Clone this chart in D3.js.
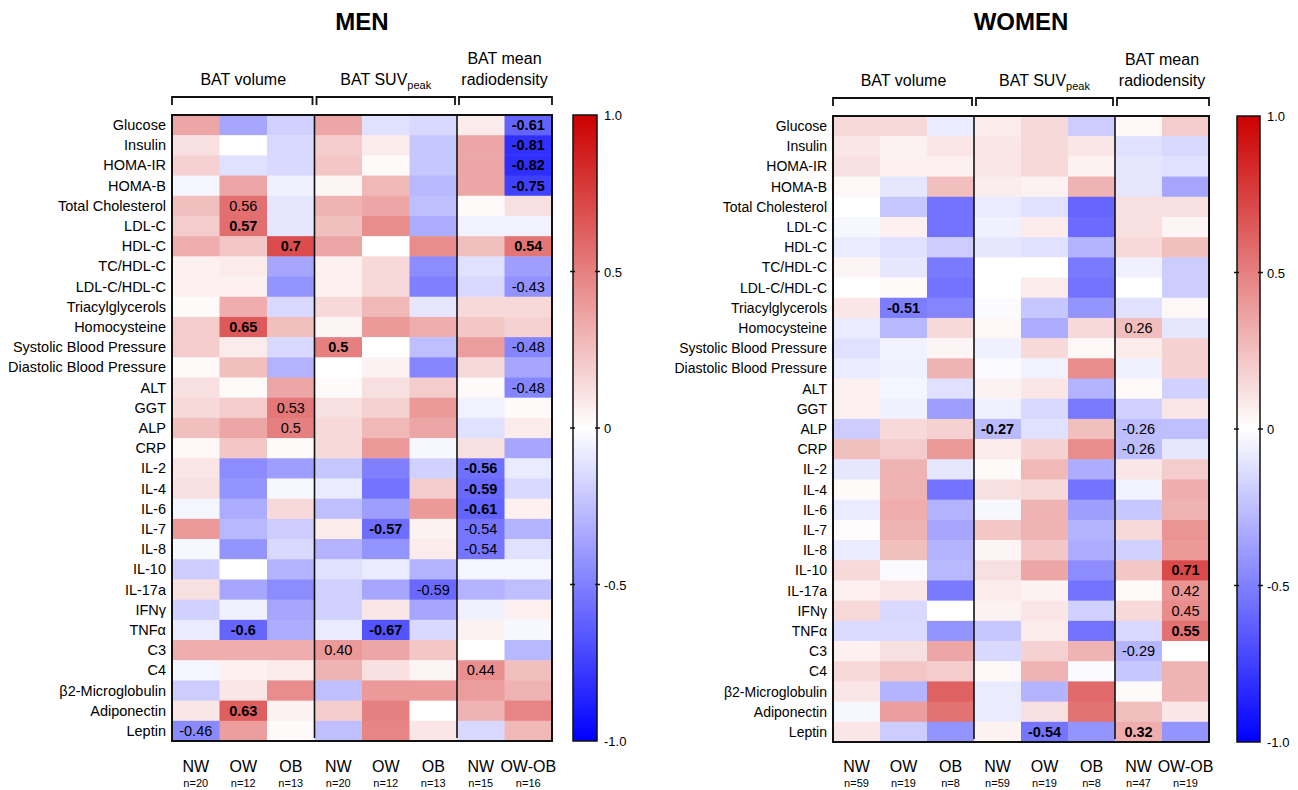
<!DOCTYPE html>
<html>
<head>
<meta charset="utf-8">
<script src="https://cdn.jsdelivr.net/npm/d3@7"></script>
<style>
  html, body { margin: 0; padding: 0; background: #fff; }
  svg { display: block; font-family: "Liberation Sans", Arial, sans-serif; }
</style>
</head>
<body>
<svg id="chart" width="1298" height="790"></svg>
<script>
// Biomarkers (rows of both heatmaps)
const biomarkers = [
  "Glucose", "Insulin", "HOMA-IR", "HOMA-B", "Total Cholesterol", "LDL-C", "HDL-C",
  "TC/HDL-C", "LDL-C/HDL-C", "Triacylglycerols", "Homocysteine",
  "Systolic Blood Pressure", "Diastolic Blood Pressure", "ALT", "GGT", "ALP", "CRP",
  "IL-2", "IL-4", "IL-6", "IL-7", "IL-8", "IL-10", "IL-17a", "IFN\u03b3", "TNF\u03b1",
  "C3", "C4", "\u03b22-Microglobulin", "Adiponectin", "Leptin"
];

// Column groups (BAT outcomes) and the weight-status columns inside each
const groupNames = ["BAT volume", "BAT SUV", "BAT mean radiodensity"];
const groupSpans = [[0, 3], [3, 6], [6, 8]];
const columnLabels = ["NW", "OW", "OB", "NW", "OW", "OB", "NW", "OW-OB"];
const menSampleSizes = ["n=20", "n=12", "n=13", "n=20", "n=12", "n=13", "n=15", "n=16"];
const womenSampleSizes = ["n=59", "n=19", "n=8", "n=59", "n=19", "n=8", "n=47", "n=19"];

// Correlation coefficients, men (one row per biomarker, 8 columns)
const menValues = [
  [ 0.35, -0.35, -0.18,  0.35, -0.12, -0.15,  0.08, -0.61],
  [ 0.12,  0.00, -0.15,  0.20,  0.08, -0.22,  0.35, -0.81],
  [ 0.18, -0.12, -0.15,  0.22,  0.02, -0.22,  0.35, -0.82],
  [-0.04,  0.35, -0.06,  0.04,  0.28, -0.28,  0.35, -0.75],
  [ 0.25,  0.56, -0.10,  0.30,  0.35, -0.25,  0.02,  0.12],
  [ 0.20,  0.57, -0.10,  0.25,  0.45, -0.32, -0.05, -0.05],
  [ 0.32,  0.22,  0.70,  0.35,  0.00,  0.45,  0.25,  0.54],
  [ 0.06,  0.08, -0.35,  0.06,  0.15, -0.45, -0.12, -0.38],
  [ 0.06,  0.06, -0.42,  0.06,  0.15, -0.50, -0.15, -0.43],
  [ 0.02,  0.32, -0.15,  0.15,  0.28, -0.10,  0.15,  0.15],
  [ 0.20,  0.65,  0.25,  0.04,  0.40,  0.32,  0.22,  0.18],
  [ 0.20,  0.08, -0.15,  0.50,  0.00, -0.25,  0.38, -0.48],
  [ 0.02,  0.25, -0.30,  0.00,  0.05, -0.48,  0.15, -0.35],
  [ 0.12,  0.02,  0.35,  0.02,  0.12,  0.20,  0.02, -0.48],
  [ 0.15,  0.20,  0.53,  0.12,  0.18,  0.40, -0.05,  0.02],
  [ 0.25,  0.35,  0.50,  0.15,  0.28,  0.35, -0.12,  0.08],
  [ 0.03,  0.22,  0.02,  0.15,  0.40, -0.03,  0.12, -0.35],
  [ 0.10, -0.45, -0.38, -0.22, -0.50, -0.18, -0.56, -0.08],
  [ 0.12, -0.42, -0.03, -0.08, -0.55,  0.20, -0.59, -0.15],
  [-0.04, -0.32,  0.15, -0.25, -0.38,  0.40, -0.61,  0.06],
  [ 0.40, -0.28, -0.20,  0.08, -0.57,  0.05, -0.54, -0.30],
  [-0.03, -0.42, -0.15, -0.30, -0.42,  0.08, -0.54, -0.12],
  [-0.20,  0.00, -0.30, -0.12, -0.08, -0.30, -0.04, -0.04],
  [ 0.12, -0.35, -0.45, -0.18, -0.35, -0.59, -0.30, -0.25],
  [-0.18, -0.06, -0.35, -0.18,  0.10, -0.35, -0.06,  0.06],
  [-0.08, -0.60, -0.32, -0.08, -0.67, -0.15,  0.05, -0.03],
  [ 0.32,  0.32,  0.32,  0.40,  0.35,  0.22,  0.00, -0.28],
  [-0.04,  0.06,  0.08,  0.30,  0.12,  0.04,  0.44,  0.25],
  [-0.20,  0.10,  0.45, -0.25,  0.40,  0.40,  0.38,  0.30],
  [ 0.10,  0.63,  0.05,  0.20,  0.50,  0.00,  0.30,  0.48],
  [-0.46,  0.38,  0.02, -0.25,  0.48,  0.10, -0.15,  0.28]
];

// Correlation coefficients, women
const womenValues = [
  [ 0.15,  0.15, -0.08,  0.08,  0.15, -0.20,  0.03,  0.20],
  [ 0.10,  0.05,  0.10,  0.10,  0.15,  0.10, -0.12, -0.15],
  [ 0.12,  0.06,  0.06,  0.10,  0.15,  0.05, -0.10, -0.12],
  [ 0.03, -0.10,  0.25,  0.07,  0.05,  0.30, -0.10, -0.35],
  [ 0.00, -0.22, -0.55, -0.08, -0.12, -0.60,  0.12,  0.12],
  [-0.03,  0.06, -0.55, -0.06,  0.08, -0.58,  0.12,  0.04],
  [-0.08, -0.12, -0.20, -0.10, -0.12, -0.30,  0.15,  0.25],
  [ 0.04, -0.10, -0.52,  0.00,  0.00, -0.52, -0.06, -0.20],
  [ 0.00,  0.02, -0.55,  0.00,  0.08, -0.55,  0.00, -0.20],
  [ 0.10, -0.51, -0.48, -0.02, -0.22, -0.42, -0.12,  0.03],
  [-0.08, -0.28,  0.15,  0.03, -0.32,  0.15,  0.26, -0.10],
  [-0.12, -0.05,  0.04, -0.06,  0.15,  0.03,  0.08,  0.18],
  [-0.08, -0.06,  0.30, -0.02, -0.05,  0.45, -0.06,  0.18],
  [ 0.06, -0.04, -0.12,  0.05,  0.10, -0.30,  0.02, -0.18],
  [ 0.06, -0.06, -0.38, -0.06, -0.15, -0.52, -0.18,  0.10],
  [-0.20,  0.15,  0.18, -0.27, -0.12,  0.25, -0.26, -0.25],
  [ 0.25,  0.20,  0.40,  0.08,  0.18,  0.45, -0.26, -0.10],
  [-0.10,  0.30, -0.10,  0.02,  0.28, -0.32,  0.10,  0.20],
  [ 0.02,  0.30, -0.55,  0.12,  0.15, -0.55, -0.05,  0.32],
  [-0.08,  0.32, -0.30, -0.03,  0.30, -0.38, -0.22,  0.30],
  [ 0.01,  0.30, -0.35,  0.22,  0.30, -0.30,  0.15,  0.42],
  [-0.08,  0.25, -0.30,  0.04,  0.22, -0.32, -0.18,  0.40],
  [ 0.15, -0.02, -0.28,  0.12,  0.35, -0.45,  0.22,  0.71],
  [ 0.06,  0.10, -0.52,  0.08,  0.05, -0.55,  0.02,  0.42],
  [ 0.15, -0.15,  0.00,  0.05,  0.10, -0.18,  0.15,  0.45],
  [-0.14, -0.14, -0.42, -0.22,  0.08, -0.55, -0.15,  0.55],
  [ 0.06,  0.12,  0.35, -0.15,  0.18,  0.30, -0.29,  0.00],
  [ 0.15,  0.22,  0.20,  0.03,  0.30, -0.02, -0.22,  0.30],
  [ 0.10, -0.30,  0.62, -0.08, -0.30,  0.58,  0.02,  0.30],
  [-0.03,  0.38,  0.55, -0.08,  0.12,  0.55,  0.25,  0.10],
  [ 0.10, -0.20, -0.42,  0.05, -0.54, -0.42,  0.32, -0.42]
];

// Printed coefficients: [biomarker, column, text, bold]
const menAnnotations = [
  ["Glucose", 7, "-0.61", true], ["Insulin", 7, "-0.81", true],
  ["HOMA-IR", 7, "-0.82", true], ["HOMA-B", 7, "-0.75", true],
  ["Total Cholesterol", 1, "0.56", false], ["LDL-C", 1, "0.57", true],
  ["HDL-C", 2, "0.7", true], ["HDL-C", 7, "0.54", true],
  ["LDL-C/HDL-C", 7, "-0.43", false], ["Homocysteine", 1, "0.65", true],
  ["Systolic Blood Pressure", 3, "0.5", true], ["Systolic Blood Pressure", 7, "-0.48", false],
  ["ALT", 7, "-0.48", false], ["GGT", 2, "0.53", false], ["ALP", 2, "0.5", false],
  ["IL-2", 6, "-0.56", true], ["IL-4", 6, "-0.59", true], ["IL-6", 6, "-0.61", true],
  ["IL-7", 4, "-0.57", true], ["IL-7", 6, "-0.54", false], ["IL-8", 6, "-0.54", false],
  ["IL-17a", 5, "-0.59", false], ["TNF\u03b1", 1, "-0.6", true], ["TNF\u03b1", 4, "-0.67", true],
  ["C3", 3, "0.40", false], ["C4", 6, "0.44", false], ["Adiponectin", 1, "0.63", true],
  ["Leptin", 0, "-0.46", false]
];
const womenAnnotations = [
  ["Triacylglycerols", 1, "-0.51", true], ["Homocysteine", 6, "0.26", false],
  ["ALP", 3, "-0.27", true], ["ALP", 6, "-0.26", false], ["CRP", 6, "-0.26", false],
  ["IL-10", 7, "0.71", true], ["IL-17a", 7, "0.42", false], ["IFN\u03b3", 7, "0.45", false],
  ["TNF\u03b1", 7, "0.55", true], ["C3", 6, "-0.29", false],
  ["Leptin", 4, "-0.54", true], ["Leptin", 6, "0.32", true]
];

// Colour bar ticks
const legendTicks = [1, 0.5, 0, -0.5, -1];
const legendTickLabels = ["1.0", "0.5", "0", "-0.5", "-1.0"];

const svg = d3.select("#chart");
const color = d3.scaleLinear().domain([-1, 0, 1]).range(["#0000ff", "#ffffff", "#cc0000"]);

// Shared gradient for both colour bars
const grad = svg.append("defs").append("linearGradient")
  .attr("id", "rb").attr("x1", 0).attr("y1", 1).attr("x2", 0).attr("y2", 0);
d3.range(0, 1.0001, 0.05).forEach(t => {
  grad.append("stop").attr("offset", t).attr("stop-color", color(-1 + 2 * t));
});

function drawPanel(p) {
  const g = svg.append("g");
  const x = d3.scaleBand().domain(d3.range(8)).range([p.x0, p.x1]);
  const y = d3.scaleBand().domain(biomarkers).range([p.y0, p.y1]);

  // title
  g.append("text").attr("x", (p.x0 + p.x1) / 2).attr("y", 30)
    .attr("text-anchor", "middle").attr("font-size", 24).attr("font-weight", "bold")
    .text(p.title);

  // cells
  const cells = [];
  p.values.forEach((row, i) => row.forEach((v, j) => cells.push({ r: biomarkers[i], c: j, v })));
  g.append("g").selectAll("rect").data(cells).join("rect")
    .attr("x", d => x(d.c)).attr("y", d => y(d.r))
    .attr("width", x.bandwidth() + 0.5).attr("height", y.bandwidth() + 0.5)
    .attr("fill", d => color(d.v));

  // printed coefficients
  g.append("g").selectAll("text").data(p.annotations).join("text")
    .attr("x", d => x(d[1]) + x.bandwidth() / 2)
    .attr("y", d => y(d[0]) + y.bandwidth() / 2 + 5)
    .attr("text-anchor", "middle").attr("font-size", 14.5)
    .attr("font-weight", d => d[3] ? "bold" : "normal")
    .text(d => d[2]);

  // group separators and frame
  [3, 6].forEach(c => {
    g.append("line").attr("x1", x(c)).attr("x2", x(c))
      .attr("y1", p.y0).attr("y2", p.y1 - 3)
      .attr("stroke", "#111").attr("stroke-width", 1.6);
  });
  g.append("rect").attr("x", p.x0).attr("y", p.y0)
    .attr("width", p.x1 - p.x0).attr("height", p.y1 - p.y0)
    .attr("fill", "none").attr("stroke", "#111").attr("stroke-width", 2);

  // row labels
  g.append("g").selectAll("text").data(biomarkers).join("text")
    .attr("x", p.x0 - 6).attr("y", d => y(d) + y.bandwidth() / 2 + 5)
    .attr("text-anchor", "end").attr("font-size", p.rowFont)
    .text(d => d);

  // brackets and group headings
  const by = p.y0 - 18;
  groupSpans.forEach(([a, b], k) => {
    const xa = x(a) + (a === 0 ? 0 : 2);
    const xb = (b === 8 ? p.x1 : x(b) - 2);
    g.append("path")
      .attr("d", `M${xa},${by + 8}V${by}H${xb}V${by + 8}`)
      .attr("fill", "none").attr("stroke", "#111").attr("stroke-width", 1.8);
    const cx = (x(a) + (b === 8 ? p.x1 : x(b))) / 2;
    if (k === 0) {
      g.append("text").attr("x", cx).attr("y", p.y0 - 30).attr("text-anchor", "middle")
        .attr("font-size", 16).text(groupNames[k]);
    } else if (k === 1) {
      const t = g.append("text").attr("x", cx).attr("y", p.y0 - 30).attr("text-anchor", "middle")
        .attr("font-size", 16);
      t.append("tspan").text(groupNames[k]);
      t.append("tspan").attr("font-size", 11).attr("dy", 4).text("peak");
    } else {
      const words = groupNames[k].split(" ");
      g.append("text").attr("x", cx).attr("y", p.y0 - 51).attr("text-anchor", "middle")
        .attr("font-size", 16).text(words.slice(0, 2).join(" "));
      g.append("text").attr("x", cx).attr("y", p.y0 - 30).attr("text-anchor", "middle")
        .attr("font-size", 16).text(words[2]);
    }
  });

  // column labels
  columnLabels.forEach((lab, j) => {
    const cx = x(j) + x.bandwidth() / 2;
    g.append("text").attr("x", cx).attr("y", 772).attr("text-anchor", "middle")
      .attr("font-size", 16).text(lab);
    g.append("text").attr("x", cx).attr("y", 787).attr("text-anchor", "middle")
      .attr("font-size", 11).text(p.sizes[j]);
  });

  // colour bar
  const ly = d3.scaleLinear().domain([-1, 1]).range([p.y1, p.y0]);
  g.append("rect").attr("x", p.lx).attr("y", p.y0).attr("width", p.lw)
    .attr("height", p.y1 - p.y0).attr("fill", "url(#rb)")
    .attr("stroke", "#111").attr("stroke-width", 1.5);
  legendTicks.forEach((t, k) => {
    if (Math.abs(t) < 1) {
      g.append("line").attr("x1", p.lx - 3).attr("x2", p.lx + 2)
        .attr("y1", ly(t)).attr("y2", ly(t)).attr("stroke", "#111").attr("stroke-width", 1.5);
      g.append("line").attr("x1", p.lx + p.lw - 2).attr("x2", p.lx + p.lw + 3)
        .attr("y1", ly(t)).attr("y2", ly(t)).attr("stroke", "#111").attr("stroke-width", 1.5);
    }
    g.append("text").attr("x", p.lx + p.lw + 7).attr("y", ly(t) + 5)
      .attr("font-size", 13).text(legendTickLabels[k]);
  });
}

drawPanel({
  title: "MEN", values: menValues, annotations: menAnnotations, sizes: menSampleSizes,
  x0: 172, x1: 552, y0: 115, y1: 741, lx: 573, lw: 24, rowFont: 14.5
});
drawPanel({
  title: "WOMEN", values: womenValues, annotations: womenAnnotations, sizes: womenSampleSizes,
  x0: 833, x1: 1209, y0: 116, y1: 742, lx: 1237, lw: 23, rowFont: 14
});
</script>
</body>
</html>
